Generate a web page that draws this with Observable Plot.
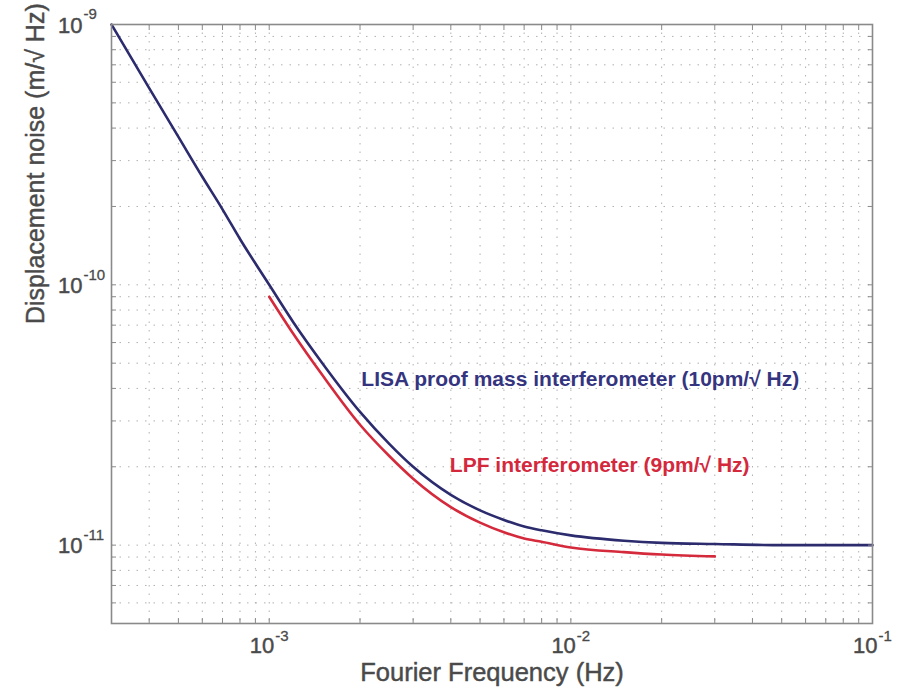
<!DOCTYPE html>
<html>
<head>
<meta charset="utf-8">
<script src="https://cdn.jsdelivr.net/npm/d3@7"></script>
<script src="https://cdn.jsdelivr.net/npm/@observablehq/plot@0.6"></script>
<style>
  html, body { margin: 0; padding: 0; background: #fff; }
  #chart { width: 903px; height: 693px; }
</style>
</head>
<body>
<div id="chart"></div>
<script>
// Fourier frequency (Hz) and displacement noise (m/√Hz)
const lisaFreq  = [3e-4, 4e-4, 5e-4, 6e-4, 7e-4, 8e-4, 1e-3, 1.2e-3, 1.5e-3, 2e-3, 2.5e-3, 3e-3, 4e-3, 5e-3, 6e-3, 7e-3, 8e-3, 1e-2, 1.5e-2, 2e-2, 3e-2, 5e-2, 1e-1];
const lisaNoise = [1.0e-9, 5.7e-10, 3.7e-10, 2.6e-10, 1.95e-10, 1.5e-10, 1.0e-10, 7.2e-11, 5.0e-11, 3.25e-11, 2.45e-11, 2.0e-11, 1.56e-11, 1.36e-11, 1.25e-11, 1.18e-11, 1.14e-11, 1.09e-11, 1.04e-11, 1.02e-11, 1.01e-11, 1.0e-11, 1.0e-11];
const lpfFreq   = [1e-3, 1.2e-3, 1.5e-3, 2e-3, 2.5e-3, 3e-3, 4e-3, 5e-3, 6e-3, 7e-3, 8e-3, 1e-2, 1.5e-2, 2e-2, 3e-2];
const lpfNoise  = [9.0e-11, 6.5e-11, 4.5e-11, 2.9e-11, 2.2e-11, 1.8e-11, 1.4e-11, 1.22e-11, 1.12e-11, 1.06e-11, 1.03e-11, 9.8e-12, 9.4e-12, 9.2e-12, 9.05e-12];

const xMajor = [1e-3, 1e-2, 1e-1];
const xExp   = ["-3", "-2", "-1"];
const yMajor = [1e-11, 1e-10, 1e-9];
const yExp   = ["-11", "-10", "-9"];
const xDomain = [3e-4, 1e-1];
const yDomain = [5e-12, 1e-9];

const labels = [
  {text: "LISA proof mass interferometer (10pm/√ Hz)", f: 2.02e-3, v: 4.35e-11, color: "#35357f"},
  {text: "LPF interferometer (9pm/√ Hz)", f: 3.97e-3, v: 2.02e-11, color: "#d4283d"}
];
const xTitle = "Fourier Frequency (Hz)";
const yTitle = "Displacement noise (m/√ Hz)";

// minor tick values (1..9 × decade) within the domains
function decadeTicks([lo, hi]) {
  const out = [];
  for (let e = Math.floor(Math.log10(lo)); e <= Math.ceil(Math.log10(hi)); e++) {
    for (let m = 1; m <= 9; m++) {
      const v = +(m + "e" + e);
      if (v >= lo * 0.999 && v <= hi * 1.001) out.push(v);
    }
  }
  return out;
}
const xTicks = decadeTicks(xDomain);
const yTicks = decadeTicks(yDomain);

const lisa = lisaFreq.map((f, i) => ({f, v: lisaNoise[i]}));
const lpf = lpfFreq.map((f, i) => ({f, v: lpfNoise[i]}));
const xLab = xMajor.map((v, i) => ({v, e: xExp[i]}));
const yLab = yMajor.map((v, i) => ({v, e: yExp[i]}));

const gray = "#4a4a4a";
const frameGray = "#8a8a8a";
const thick = {fill: gray, stroke: gray, strokeWidth: 0.45};

const chart = Plot.plot({
  width: 903,
  height: 693,
  marginLeft: 111,
  marginRight: 31,
  marginTop: 24,
  marginBottom: 70,
  x: {type: "log", domain: xDomain, axis: null},
  y: {type: "log", domain: yDomain, axis: null},
  style: {fontFamily: "'Liberation Sans', Arial, sans-serif", background: "#fff", overflow: "visible"},
  marks: [
    Plot.gridX({ticks: xTicks, stroke: "#b0b0b0", strokeOpacity: 1, strokeWidth: 1, strokeDasharray: "1.5,7"}),
    Plot.gridY({ticks: yTicks, stroke: "#b0b0b0", strokeOpacity: 1, strokeWidth: 1, strokeDasharray: "1.5,7"}),
    Plot.line(lisa, {x: "f", y: "v", stroke: "#2b2b6e", strokeWidth: 2.6, curve: "monotone-x"}),
    Plot.line(lpf, {x: "f", y: "v", stroke: "#d42a3c", strokeWidth: 2.6, curve: "monotone-x"}),
    Plot.frame({stroke: frameGray, strokeWidth: 1.6}),
    Plot.axisX({ticks: xTicks, anchor: "bottom", tickSize: -5, tickFormat: () => "", label: null, stroke: frameGray}),
    Plot.axisX({ticks: xTicks, anchor: "top", tickSize: -5, tickFormat: () => "", label: null, stroke: frameGray}),
    Plot.axisY({ticks: yTicks, anchor: "left", tickSize: -5, tickFormat: () => "", label: null, stroke: frameGray}),
    Plot.axisY({ticks: yTicks, anchor: "right", tickSize: -5, tickFormat: () => "", label: null, stroke: frameGray}),
    // x tick labels: "10" + superscript exponent
    Plot.text(xLab, {x: "v", frameAnchor: "bottom", text: () => "10", textAnchor: "end", dx: 5, dy: 29, fontSize: 22, ...thick}),
    Plot.text(xLab, {x: "v", frameAnchor: "bottom", text: "e", textAnchor: "start", dx: 6, dy: 17, fontSize: 15, ...thick, strokeWidth: 0.3}),
    // y tick labels
    Plot.text(yLab, {y: "v", frameAnchor: "left", text: () => "10", textAnchor: "end", dx: -29, dy: 1, fontSize: 22, ...thick}),
    Plot.text(yLab, {y: "v", frameAnchor: "left", text: "e", textAnchor: "start", dx: -28, dy: -10, fontSize: 15, ...thick, strokeWidth: 0.3}),
    // axis titles
    Plot.text([xTitle], {frameAnchor: "bottom", text: d => d, dy: 57, fontSize: 25.5, ...thick}),
    Plot.text([yTitle], {frameAnchor: "left", text: d => d, rotate: -90, dx: -76, fontSize: 25, ...thick}),
    // curve labels
    Plot.text(labels, {x: "f", y: "v", text: "text", fill: "color", textAnchor: "start", fontSize: 21, fontWeight: "bold"})
  ]
});
document.getElementById("chart").appendChild(chart);
</script>
</body>
</html>
